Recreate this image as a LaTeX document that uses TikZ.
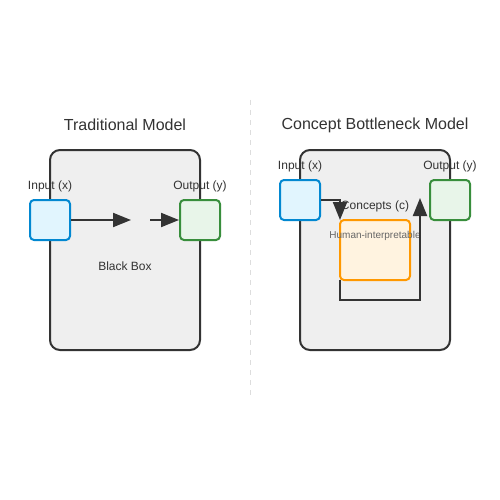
\documentclass[tikz,border=0pt]{standalone}
\usepackage{fontspec}
\setmainfont{Liberation Sans}
\usetikzlibrary{arrows.meta}
\definecolor{ink}{HTML}{333333}
\definecolor{boxfill}{HTML}{EFEFEF}
\definecolor{inFill}{HTML}{E1F5FE}
\definecolor{inDraw}{HTML}{0288D1}
\definecolor{outFill}{HTML}{E8F5E9}
\definecolor{outDraw}{HTML}{388E3C}
\definecolor{cFill}{HTML}{FFF3E0}
\definecolor{cDraw}{HTML}{FF9800}
\definecolor{divider}{HTML}{DDDDDD}
\definecolor{sub}{HTML}{666666}
\begin{document}
\begin{tikzpicture}[x=1pt,y=-1pt,
  model/.style={draw=ink,fill=boxfill,line width=2pt,rounded corners=10pt},
  inbox/.style={draw=inDraw,fill=inFill,line width=2pt,rounded corners=4pt,minimum width=40pt,minimum height=40pt,inner sep=0pt},
  outbox/.style={draw=outDraw,fill=outFill,line width=2pt,rounded corners=4pt,minimum width=40pt,minimum height=40pt,inner sep=0pt},
  cbox/.style={draw=cDraw,fill=cFill,line width=2pt,rounded corners=4pt,minimum width=70pt,minimum height=60pt,inner sep=0pt},
  lbl/.style={text=ink,font=\fontsize{12}{14}\selectfont,inner sep=0pt},
  ttl/.style={text=ink,font=\fontsize{16}{19}\selectfont,inner sep=0pt},
  smalllbl/.style={text=sub,font=\fontsize{10}{12}\selectfont,inner sep=0pt},
  flow/.style={draw=ink,line width=2pt,-{Triangle[length=18pt,width=14pt]}},
  plainflow/.style={draw=ink,line width=2pt}]
\useasboundingbox (0,0) rectangle (500,500);
\fill[white] (0,0) rectangle (500,500);
% divider
\draw[divider,line width=1pt,dash pattern=on 5pt off 5pt] (250,100) -- (250,395);
% Traditional model
\node[ttl] (t1) at (125,125) {Traditional Model};
\draw[model] (50,150) rectangle (200,350);
\node[inbox] (in1) at (50,220) {};
\node[outbox] (out1) at (200,220) {};
\node[lbl] (lin1) at (50,186) {Input (x)};
\node[lbl] (lout1) at (200,186) {Output (y)};
\node[lbl] (bb) at (125,266) {Black Box};
\coordinate (m1) at (131,220);
\coordinate (m2) at (150,220);
\draw[flow] (in1.east) -- (m1);
\draw[flow] (m2) -- (out1.west);
% Concept bottleneck model
\node[ttl] (t2) at (375,125) {Concept Bottleneck Model};
\draw[model] (300,150) rectangle (450,350);
\node[inbox] (in2) at (300,200) {};
\node[outbox] (out2) at (450,200) {};
\node[cbox] (c) at (375,250) {};
\node[lbl] (lin2) at (300,166) {Input (x)};
\node[lbl] (lout2) at (450,166) {Output (y)};
\node[lbl] (lc) at (375,206) {Concepts (c)};
\node[smalllbl] (hi) at (375,236) {Human-interpretable};
\coordinate (cTop) at (340,220);
\coordinate (cBot) at (340,280);
\coordinate (oTip) at (420,198);
\draw[flow] (in2.east) -- (340,200) -- (cTop);
\draw[flow] (cBot) -- (340,300) -- (420,300) -- (oTip);
\end{tikzpicture}
\end{document}
